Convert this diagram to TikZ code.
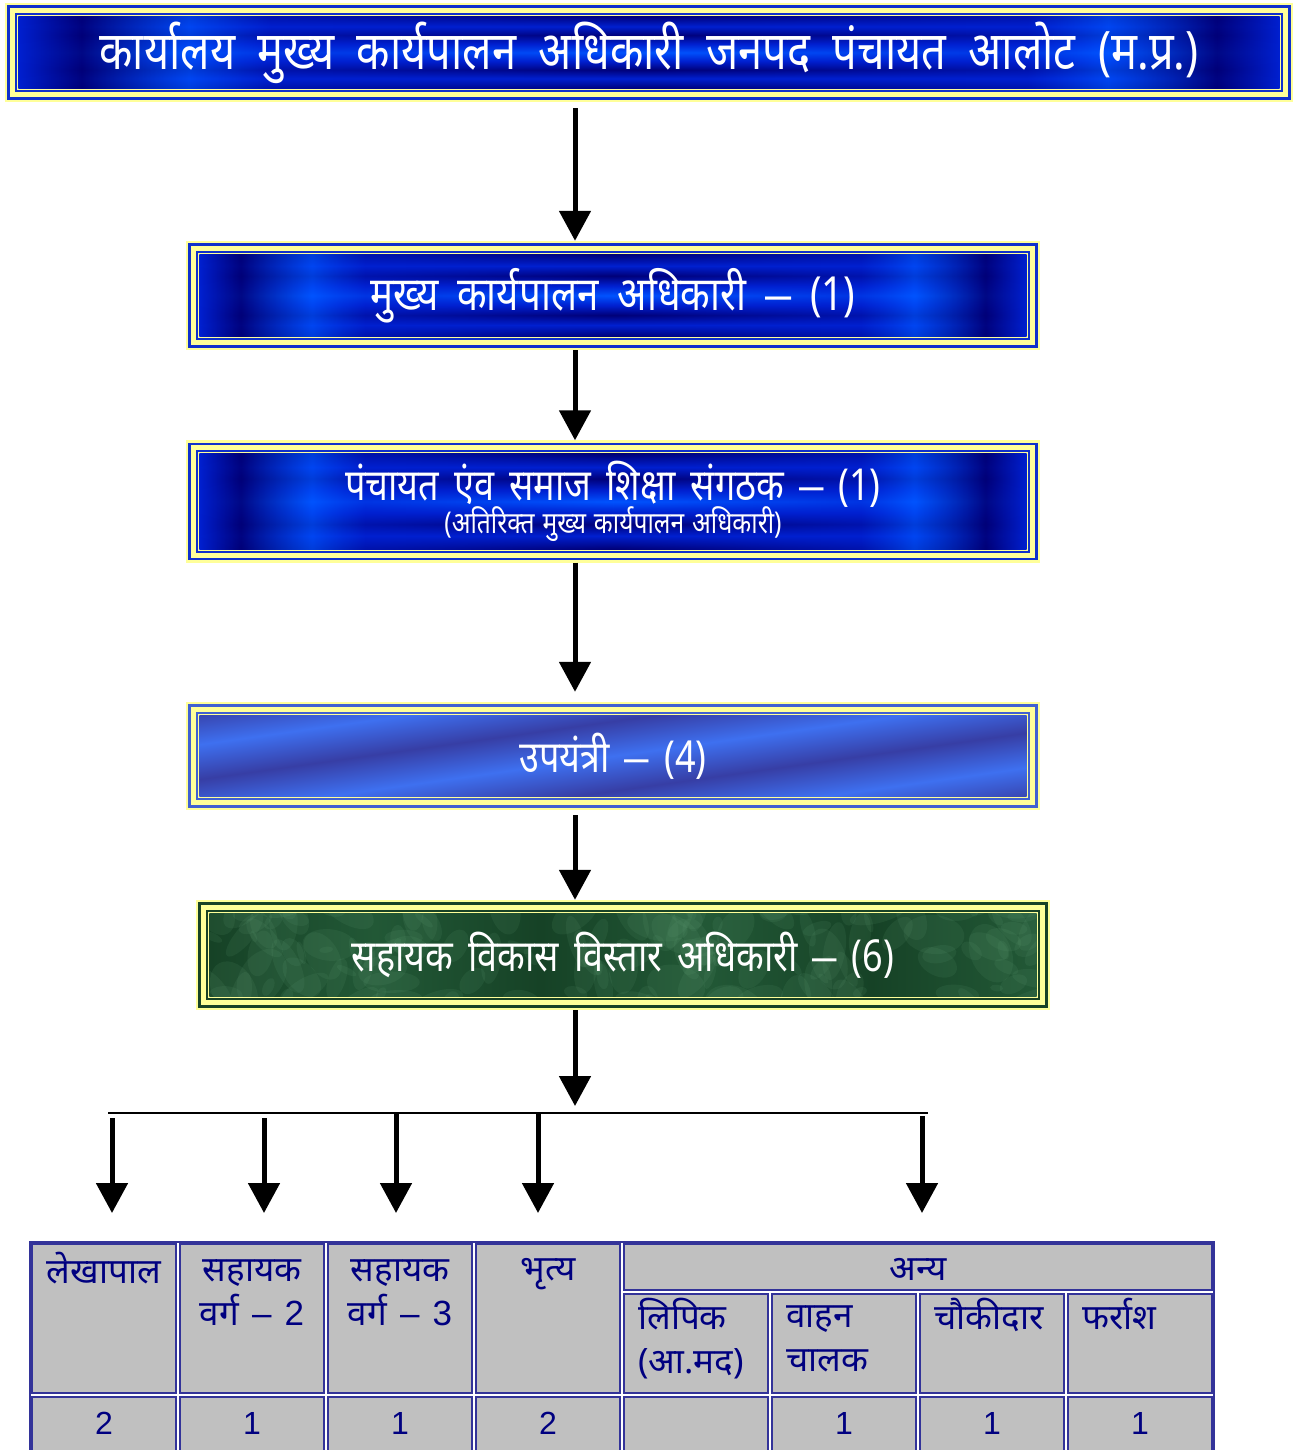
\documentclass[tikz,border=0pt]{standalone}
\usepackage{fontspec}
\setmainfont[Script=Devanagari]{Noto Sans}
\newfontfamily\hindibox[Script=Devanagari,FakeStretch=0.82]{Noto Sans}
\newfontfamily\numfont{Liberation Sans}
\usetikzlibrary{positioning,arrows.meta,backgrounds,calc,fadings}

\definecolor{paleyel}  {RGB}{255,255,153}
\definecolor{frblue}   {RGB}{16 ,48 ,204}
\definecolor{frstripe} {RGB}{64 ,96 ,210}
\definecolor{frgreen}  {RGB}{24 ,66 ,38 }
\definecolor{tblue}    {RGB}{51 ,51 ,153}
\definecolor{tnavy}    {RGB}{0  ,0  ,128}
\definecolor{cellgrey} {RGB}{192,192,192}
\definecolor{mb1}      {RGB}{0  ,0  ,120}
\definecolor{mb2}      {RGB}{0  ,84 ,255}
\definecolor{mb3}      {RGB}{0  ,32 ,208}
\definecolor{st1}      {RGB}{62 ,112,240}
\definecolor{st2}      {RGB}{55 ,62 ,165}
\definecolor{mg1}      {RGB}{22 ,66 ,38 }
\definecolor{mg2}      {RGB}{100,160,120}
\definecolor{mg3}      {RGB}{34 ,88 ,54 }

\pgfdeclarehorizontalshading{metalblue}{100bp}{color(0bp)=(mb3); color(25bp)=(mb3); color(27.5bp)=(mb1); color(31.8bp)=(mb2); color(35bp)=(mb3); color(65bp)=(mb3); color(68.2bp)=(mb2); color(72.5bp)=(mb1); color(75bp)=(mb3); color(100bp)=(mb3)}
\pgfdeclareverticalshading{metalstreak}{100bp}{color(0bp)=(mb1); color(25bp)=(mb1); color(32bp)=(mb3); color(38bp)=(mb1); color(44bp)=(mb3); color(50bp)=(mb2); color(56bp)=(mb3); color(62bp)=(mb1); color(68bp)=(mb3); color(75bp)=(mb1); color(100bp)=(mb1)}
\pgfdeclareverticalshading{bluestripes}{100bp}{color(0bp)=(st1); color(20bp)=(st2); color(30bp)=(st1); color(40bp)=(st2); color(50bp)=(st1); color(60bp)=(st2); color(70bp)=(st1); color(80bp)=(st2); color(100bp)=(st1)}
\pgfdeclarehorizontalshading{marblegreen}{100bp}{color(0bp)=(mg1); color(25bp)=(mg1); color(35bp)=(mg3); color(45bp)=(mg1); color(55bp)=(mg3); color(65bp)=(mg1); color(75bp)=(mg3); color(100bp)=(mg1)}
\tikzfading[name=fadeends, left color=transparent!100, right color=transparent!100, middle color=transparent!0]

\begin{document}
\begin{tikzpicture}[
    x=1pt, y=-1pt,
    orgbox/.style={text=white, inner sep=0pt, align=center, minimum width=854pt,
                   font={\hindibox\fontsize{44}{48}\selectfont\spaceskip=15pt plus 3pt}},
    arr/.style={line width=5pt, -{Triangle[length=30pt,width=31pt]}},
    cell/.style={draw=tblue, line width=2pt, fill=cellgrey, inner sep=0pt, minimum width=144pt},
    hdtxt/.style={text=tnavy, inner sep=0pt, align=center, font={\fontsize{35}{44}\selectfont\spaceskip=13pt}},
    subtxt/.style={hdtxt, align=left},
    numtxt/.style={text=tnavy, inner sep=0pt, font={\numfont\fontsize{32}{36}\selectfont}},
]

    \path[use as bounding box] (0,0) rectangle (1301,1450);

    % boxes
    \node[orgbox, minimum width=1288pt, minimum height=99pt,
          font={\hindibox\fontsize{53}{56}\selectfont\spaceskip=22.5pt plus 3pt}] (office) at (649,52.5)
        {कार्यालय मुख्य कार्यपालन अधिकारी जनपद पंचायत आलोट (म.प्र.)};
    \node[orgbox, minimum height=109pt,
          font={\hindibox\fontsize{47}{50}\selectfont\spaceskip=19pt plus 3pt}] (ceo) at (613,295.5)
        {मुख्य कार्यपालन अधिकारी {\numfont –} (1)};
    \node[orgbox, minimum height=122pt] (pse)    at (613,501.5)
        {पंचायत एंव समाज शिक्षा संगठक {\numfont –} (1)\\[-15pt]{\fontsize{30}{32}\selectfont\spaceskip=8pt (अतिरिक्त मुख्य कार्यपालन अधिकारी)}};
    \node[orgbox, minimum height=108pt] (subeng) at (613,756)   {उपयंत्री {\numfont –} (4)};
    \node[orgbox, minimum height=110pt] (adeo)   at (623,955)   {सहायक विकास विस्तार अधिकारी {\numfont –} (6)};

    % frames behind the text
    \begin{scope}[on background layer]
        \fill[white] (0,0) rectangle (1301,1450);
        \foreach \b/\fr/\sh/\ang in {office/frblue/metalblue/0, ceo/frblue/metalblue/0, pse/frblue/metalblue/0,
                                    subeng/frstripe/bluestripes/8, adeo/frgreen/marblegreen/0}{
            \fill[paleyel] (\b.north west) rectangle (\b.south east);
            \draw[\fr, line width=2.7pt] ([shift={(3.6pt,-3.6pt)}]\b.north west)
                rectangle ([shift={(-3.6pt,3.6pt)}]\b.south east);
            \draw[\fr, line width=1.7pt] ([shift={(10.9pt,-10.9pt)}]\b.north west)
                rectangle ([shift={(-10.9pt,10.9pt)}]\b.south east);
            \shade[shading=\sh, shading angle=\ang] ([shift={(13.6pt,-13.6pt)}]\b.north west)
                rectangle ([shift={(-13.6pt,13.6pt)}]\b.south east);
        }
        \foreach \b in {office,ceo,pse}
            \shade[shading=metalstreak, path fading=fadeends] ([shift={(13.6pt,-13.6pt)}]\b.north west)
                rectangle ([shift={(-13.6pt,13.6pt)}]\b.south east);
        % marble spots
        \begin{scope}
            \clip ([shift={(13.6pt,-13.6pt)}]adeo.north west) rectangle ([shift={(-13.6pt,13.6pt)}]adeo.south east);
            \pgfmathsetseed{41}
            \foreach \k in {1,...,160}{
                \pgfmathsetmacro\rx{rnd*854}
                \pgfmathsetmacro\ry{rnd*110}
                \pgfmathsetmacro\ra{6+rnd*26}
                \pgfmathsetmacro\rb{(0.3+0.4*rnd)*\ra}
                \pgfmathsetmacro\rr{rnd*180}
                \path ([shift={(\rx pt,-\ry pt)}]adeo.north west) coordinate (blob);
                \fill[mg2, opacity=.12, rotate around={\rr:(blob)}] (blob) ellipse ({\ra pt} and {\rb pt});
            }
        \end{scope}
    \end{scope}

    % arrows down the middle
    \coordinate (spine) at (575,0);
    \draw[arr, shorten <=6pt]               (office.south -| spine) -- (ceo.north -| spine);
    \draw[arr]                              (ceo.south -| spine)    -- (pse.north -| spine);
    \draw[arr, shorten >=10pt]              (pse.south -| spine)    -- (subeng.north -| spine);
    \draw[arr, shorten <=5pt]               (subeng.south -| spine) -- (adeo.north -| spine);

    \coordinate (busL) at (108,1113);
    \coordinate (busM) at (575,1113);
    \coordinate (busR) at (928,1113);
    \draw[arr, shorten >=7pt] (adeo.south -| spine) -- (busM);
    \draw[line width=2.5pt] (busL) -- (busR);

    % table
    \draw[tblue, line width=2pt] (30,1242) rectangle (1214,1480);
    \node[cell, minimum height=149pt] (lekha)   at (104,1318.5) {};
    \node[cell, minimum height=149pt] (sv2)     at (252,1318.5) {};
    \node[cell, minimum height=149pt] (sv3)     at (400,1318.5) {};
    \node[cell, minimum height=149pt] (bhritya) at (548,1318.5) {};
    \node[cell, minimum width=588pt, minimum height=46pt] (anya) at (918,1267) {};
    \node[cell, minimum height=99pt]  (lipik)   at (696,1343.5) {};
    \node[cell, minimum height=99pt]  (vahan)   at (844,1343.5) {};
    \node[cell, minimum height=99pt]  (chauki)  at (992,1343.5) {};
    \node[cell, minimum height=99pt]  (farrash) at (1140,1343.5) {};
    \foreach \i in {1,...,8}
        \node[cell, minimum height=66pt] (n\i) at (30+148*\i-74,1430) {};

    \node[hdtxt, below=9pt of lekha.north]   (tlekha)   {लेखापाल};
    \node[hdtxt, below=17pt of sv2.north]    (tsv2)     {सहायक\\वर्ग {\numfont– 2}};
    \node[hdtxt, below=17pt of sv3.north]    (tsv3)     {सहायक\\वर्ग {\numfont– 3}};
    \node[hdtxt, below=15pt of bhritya.north] (tbhritya) {भृत्य};
    \node[hdtxt, below=15pt of anya.north]   (tanya)    {अन्य};
    \node[subtxt, below right=5pt and 15pt of lipik.north west]   (tlipik)   {लिपिक\\(आ.मद)};
    \node[subtxt, below right=13pt and 15pt of vahan.north west]  (tvahan)   {वाहन\\चालक};
    \node[subtxt, below right=5pt and 15pt of chauki.north west]  (tchauki)  {चौकीदार};
    \node[subtxt, below right=5pt and 15pt of farrash.north west] (tfarrash) {फर्राश};

    \foreach \i/\v in {1/2,2/1,3/1,4/2,6/1,7/1,8/1}
        \node[numtxt, below=16pt of n\i.north] (v\i) {\v};

    % arrows to the table
    \coordinate (b1) at (112,1118);
    \coordinate (b2) at (264,1118);
    \coordinate (b3) at (396,1114);
    \coordinate (b4) at (538,1114);
    \coordinate (b5) at (922,1116);
    \draw[arr, shorten >=30pt] (b1) -- (b1 |- lekha.north);
    \draw[arr, shorten >=30pt] (b2) -- (b2 |- sv2.north);
    \draw[arr, shorten >=30pt] (b3) -- (b3 |- sv3.north);
    \draw[arr, shorten >=30pt] (b4) -- (b4 |- bhritya.north);
    \draw[arr, shorten >=30pt] (b5) -- (b5 |- anya.north);

\end{tikzpicture}
\end{document}
